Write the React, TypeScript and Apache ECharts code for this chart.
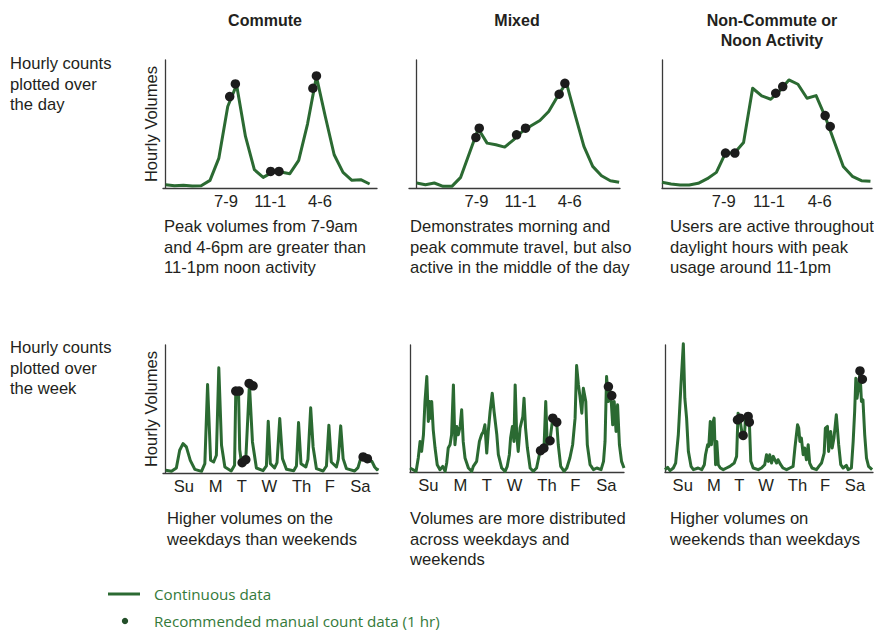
import React, { useEffect, useRef } from "react";
import * as echarts from "echarts";

// ---------- data ----------
const panelTitles = ["Commute", "Mixed", "Non-Commute or\nNoon Activity"];
const rowLabels = ["Hourly counts\nplotted over\nthe day", "Hourly counts\nplotted over\nthe week"];
const dayNotes = [
  "Peak volumes from 7-9am\nand 4-6pm are greater than\n11-1pm noon activity",
  "Demonstrates morning and\npeak commute travel, but also\nactive in the middle of the day",
  "Users are active throughout\ndaylight hours with peak\nusage around 11-1pm",
];
const weekNotes = [
  "Higher volumes on the\nweekdays than weekends",
  "Volumes are more distributed\nacross weekdays and\nweekends",
  "Higher volumes on\nweekends than weekdays",
];
const legendLabels = ["Continuous data", "Recommended manual count data (1 hr)"];
const yAxisTitle = "Hourly Volumes";

const hourTickLabels = ["7-9", "11-1", "4-6"];
const hourTickAt = [6.8, 11.8, 17.4];
const dayLabels = ["Su", "M", "T", "W", "Th", "F", "Sa"];
const dayTickAt = [0.6, 1.65, 2.51, 3.42, 4.48, 5.41, 6.42];

// hourly volumes, hours 0..23
const commuteDay = [10, 7, 8, 6, 7, 23, 90, 245, 310, 155, 55, 32, 47, 48, 43, 83, 193, 335, 215, 100, 47, 23, 25, 12];
const mixedDay = [15, 10, 15, 5, 5, 32, 105, 178, 135, 130, 123, 145, 170, 187, 203, 230, 275, 317, 220, 125, 65, 37, 22, 17];
const noonDay = [17, 12, 9, 9, 14, 28, 47, 105, 105, 137, 300, 277, 267, 293, 325, 312, 270, 278, 215, 140, 65, 35, 22, 20];

// manual count samples [hour, volume]
const commuteDayDots = [[7.22, 275], [7.86, 313], [11.84, 50], [12.78, 50], [16.6, 300], [17.0, 337]];
const mixedDayDots = [[6.73, 152], [7.11, 180], [11.35, 160], [12.37, 180], [16.19, 282], [16.84, 315]];
const noonDayDots = [[7.01, 105], [8.04, 105], [12.55, 285], [13.32, 305], [18.0, 218], [18.56, 185]];

// weekly series [day, volume]
const commuteWeek = [
  [0, 8], [0.19, 5], [0.35, 15], [0.46, 68], [0.57, 88], [0.68, 78], [0.81, 38], [0.96, 11],
  [1.18, 5], [1.29, 28], [1.38, 265], [1.48, 38], [1.58, 33], [1.67, 53], [1.75, 315], [1.84, 83], [1.95, 18],
  [2.16, 6], [2.27, 23], [2.31, 245], [2.4, 245], [2.44, 70], [2.5, 28], [2.64, 41], [2.76, 265], [2.86, 93], [2.99, 15],
  [3.21, 7], [3.32, 21], [3.38, 155], [3.45, 28], [3.59, 15], [3.67, 31], [3.76, 163], [3.85, 43], [3.98, 11],
  [4.22, 7], [4.31, 21], [4.38, 151], [4.46, 28], [4.62, 18], [4.69, 41], [4.78, 195], [4.86, 78], [4.97, 13],
  [5.19, 6], [5.3, 21], [5.38, 143], [5.46, 33], [5.63, 18], [5.69, 41], [5.77, 141], [5.85, 43], [5.96, 13],
  [6.23, 6], [6.34, 16], [6.42, 41], [6.56, 45], [6.7, 35], [6.8, 35], [6.89, 18], [6.97, 10], [7.0, 15],
];
const commuteWeekDots = [[2.31, 245], [2.42, 245], [2.52, 31], [2.64, 40], [2.75, 268], [2.88, 261], [6.51, 48], [6.65, 43]];

const mixedWeek = [
  [0, 12], [0.2, 2], [0.27, 42], [0.33, 92], [0.38, 62], [0.44, 112], [0.49, 212], [0.55, 287], [0.6, 152],
  [0.63, 212], [0.68, 162], [0.71, 212], [0.76, 127], [0.82, 72], [0.89, 22], [0.98, 7], [1.07, 17], [1.15, 2],
  [1.2, 27], [1.25, 72], [1.31, 82], [1.36, 112], [1.42, 262], [1.47, 82], [1.53, 137], [1.58, 112], [1.64, 137],
  [1.69, 187], [1.74, 92], [1.8, 42], [1.91, 12], [2.02, 2],
  [2.07, 17], [2.18, 32], [2.27, 92], [2.34, 112], [2.4, 122], [2.45, 142], [2.51, 57], [2.56, 122], [2.62, 182],
  [2.69, 237], [2.75, 182], [2.84, 112], [2.89, 52], [3.0, 12], [3.11, 2],
  [3.18, 17], [3.25, 52], [3.29, 102], [3.35, 137], [3.4, 92], [3.44, 262], [3.49, 112], [3.54, 62], [3.6, 132],
  [3.69, 167], [3.73, 222], [3.78, 132], [3.84, 72], [3.93, 12], [4.03, 2],
  [4.14, 12], [4.23, 52], [4.31, 77], [4.38, 62], [4.44, 212], [4.49, 82], [4.58, 97], [4.67, 162], [4.74, 152],
  [4.8, 147], [4.85, 82], [4.93, 17], [5.04, 2],
  [5.13, 12], [5.23, 42], [5.32, 82], [5.4, 162], [5.45, 320], [5.51, 262], [5.56, 227], [5.62, 177], [5.67, 252],
  [5.7, 237], [5.75, 212], [5.8, 82], [5.89, 22], [6.0, 7],
  [6.11, 12], [6.25, 7], [6.33, 32], [6.38, 92], [6.43, 287], [6.49, 212], [6.52, 252], [6.57, 232], [6.63, 142],
  [6.68, 212], [6.74, 122], [6.79, 202], [6.85, 82], [6.92, 32], [7.0, 12],
];
const mixedWeekDots = [[4.27, 64], [4.38, 72], [4.58, 94], [4.67, 162], [4.8, 150], [6.49, 257], [6.6, 230]];

const noonWeek = [
  [0, 7], [0.09, 14], [0.17, 4], [0.28, 12], [0.36, 27], [0.45, 112], [0.54, 262], [0.62, 386], [0.67, 222],
  [0.73, 162], [0.79, 62], [0.88, 17], [0.96, 7], [1.12, 12],
  [1.24, 7], [1.33, 22], [1.37, 52], [1.44, 82], [1.48, 77], [1.53, 152], [1.57, 82], [1.63, 152], [1.66, 162],
  [1.71, 22], [1.75, 92], [1.8, 22], [1.87, 12], [1.97, 7],
  [2.08, 12], [2.19, 17], [2.34, 27], [2.42, 47], [2.47, 177], [2.53, 162], [2.61, 112], [2.68, 102], [2.72, 162],
  [2.79, 174], [2.85, 152], [2.9, 32], [2.98, 12], [3.15, 7],
  [3.26, 12], [3.37, 22], [3.43, 52], [3.49, 32], [3.54, 52], [3.6, 27], [3.66, 47], [3.71, 37], [3.77, 27],
  [3.82, 37], [3.91, 22], [3.99, 12], [4.11, 7],
  [4.22, 12], [4.33, 17], [4.39, 72], [4.48, 142], [4.52, 132], [4.56, 92], [4.61, 102], [4.67, 52], [4.72, 72],
  [4.78, 37], [4.84, 82], [4.89, 27], [4.97, 12], [5.12, 7],
  [5.2, 17], [5.29, 27], [5.38, 57], [5.42, 132], [5.49, 137], [5.53, 62], [5.6, 122], [5.65, 72], [5.71, 102],
  [5.79, 172], [5.87, 82], [5.94, 22], [6.02, 12], [6.13, 20],
  [6.19, 7], [6.3, 12], [6.36, 92], [6.41, 182], [6.45, 282], [6.49, 222], [6.55, 262], [6.59, 302], [6.64, 212],
  [6.69, 217], [6.75, 112], [6.81, 42], [6.88, 17], [7.0, 7],
];
const noonWeekDots = [[2.45, 157], [2.54, 162], [2.64, 110], [2.81, 167], [2.85, 150], [6.59, 304], [6.67, 279]];

// ---------- styling ----------
const FONT = '"Liberation Sans", Arial, Helvetica, sans-serif';
const LEGEND_FONT = '"Open Sans", "Noto Sans", sans-serif';
const LINE_GREEN = "#2b6a32";
const TEXT_GREEN = "#347a3a";
const DOT = "#1c1c1c";
const AXIS = "#3a3a3a";
const TEXT = "#231f20";
const BODY_SIZE = 16.6;

const toPairs = (vals: number[]) => vals.map((v, i) => [i, v]);

export default function App() {
  const ref = useRef<HTMLDivElement>(null);

  useEffect(() => {
    if (!ref.current) return;
    const chart = echarts.init(ref.current, null, { renderer: "svg" });

    const panels = [
      { grid: { left: 163, top: 60, width: 214, height: 128 }, xMin: -0.3, xMax: 23.83, yMax: 385, line: toPairs(commuteDay), dots: commuteDayDots, at: hourTickAt, labels: hourTickLabels, yName: true },
      { grid: { left: 409, top: 60, width: 211, height: 128 }, xMin: -0.87, xMax: 23.1, yMax: 385, line: toPairs(mixedDay), dots: mixedDayDots, at: hourTickAt, labels: hourTickLabels, yName: false },
      { grid: { left: 662, top: 60, width: 210, height: 128 }, xMin: 0, xMax: 23.17, yMax: 385, line: toPairs(noonDay), dots: noonDayDots, at: hourTickAt, labels: hourTickLabels, yName: false },
      { grid: { left: 163, top: 345, width: 215, height: 128 }, xMin: -0.09, xMax: 7.0, yMax: 383, line: commuteWeek, dots: commuteWeekDots, at: dayTickAt, labels: dayLabels, yName: true },
      { grid: { left: 410, top: 345, width: 214, height: 127 }, xMin: 0, xMax: 7.0, yMax: 382, line: mixedWeek, dots: mixedWeekDots, at: dayTickAt, labels: dayLabels, yName: false },
      { grid: { left: 665, top: 345, width: 208, height: 127 }, xMin: 0, xMax: 7.03, yMax: 382, line: noonWeek, dots: noonWeekDots, at: dayTickAt, labels: dayLabels, yName: false },
    ];

    const axisLine = { show: true, lineStyle: { color: AXIS, width: 1.3 } };

    const grid = panels.map((p) => ({ ...p.grid, containLabel: false }));
    const xAxis = panels.map((p, i) => ({
      type: "value",
      gridIndex: i,
      min: p.xMin,
      max: p.xMax,
      axisLine,
      axisTick: { show: false },
      splitLine: { show: false },
      axisLabel: {
        show: true,
        customValues: p.at,
        margin: 5,
        color: TEXT,
        fontSize: BODY_SIZE,
        fontFamily: FONT,
        formatter: (v: number) => {
          const k = p.at.findIndex((a) => Math.abs(a - v) < 1e-6);
          return k >= 0 ? p.labels[k] : "";
        },
      },
    }));
    const yAxis = panels.map((p, i) => ({
      type: "value",
      gridIndex: i,
      min: 0,
      max: p.yMax,
      axisLine,
      axisTick: { show: false },
      axisLabel: { show: false },
      splitLine: { show: false },
      name: p.yName ? yAxisTitle : "",
      nameLocation: "middle",
      nameGap: 3,
      nameTextStyle: { color: TEXT, fontSize: BODY_SIZE, fontFamily: FONT },
    }));

    const series: any[] = [];
    panels.forEach((p, i) => {
      series.push({
        type: "line",
        name: legendLabels[0],
        xAxisIndex: i,
        yAxisIndex: i,
        data: p.line,
        showSymbol: false,
        clip: false,
        lineStyle: { color: LINE_GREEN, width: 3, join: "round" },
        itemStyle: { color: LINE_GREEN },
        z: 2,
      });
      series.push({
        type: "scatter",
        name: legendLabels[1],
        xAxisIndex: i,
        yAxisIndex: i,
        data: p.dots,
        symbolSize: 9.5,
        clip: false,
        itemStyle: { color: DOT, opacity: 1 },
        z: 3,
      });
    });

    const txt = (text: string, x: number, y: number, extra: any = {}) => ({
      type: "text",
      x,
      y,
      silent: true,
      style: {
        text,
        fill: TEXT,
        fontSize: BODY_SIZE,
        fontFamily: FONT,
        lineHeight: 20.5,
        align: "left",
        verticalAlign: "top",
        ...extra,
      },
    });

    const titleX = [265, 517, 772];
    const noteX = [164, 410, 670];
    const weekNoteX = [167, 410, 670];

    const graphic: any[] = [
      ...panelTitles.map((t, i) => txt(t, titleX[i], 10, { fontWeight: "bold", fontSize: 16, align: "center", lineHeight: 20 })),
      txt(rowLabels[0], 10, 53.5),
      txt(rowLabels[1], 10, 337.5),
      ...dayNotes.map((t, i) => txt(t, noteX[i], 216.5)),
      ...weekNotes.map((t, i) => txt(t, weekNoteX[i], 508.5)),
      {
        type: "line",
        silent: true,
        shape: { x1: 108, y1: 594, x2: 140, y2: 594 },
        style: { stroke: LINE_GREEN, lineWidth: 3 },
      },
      {
        type: "circle",
        silent: true,
        shape: { cx: 125, cy: 621, r: 3.2 },
        style: { fill: "#24502a" },
      },
      txt(legendLabels[0], 154, 594, { fill: TEXT_GREEN, fontFamily: LEGEND_FONT, fontSize: 15.2, verticalAlign: "middle" }),
      txt(legendLabels[1], 154, 621, { fill: TEXT_GREEN, fontFamily: LEGEND_FONT, fontSize: 15.2, verticalAlign: "middle" }),
    ];

    chart.setOption({
      animation: false,
      backgroundColor: "#ffffff",
      grid,
      xAxis,
      yAxis,
      series,
      graphic,
    });

    return () => chart.dispose();
  }, []);

  return <div ref={ref} style={{ position: "absolute", left: 0, top: 0, width: 874, height: 632 }} />;
}
